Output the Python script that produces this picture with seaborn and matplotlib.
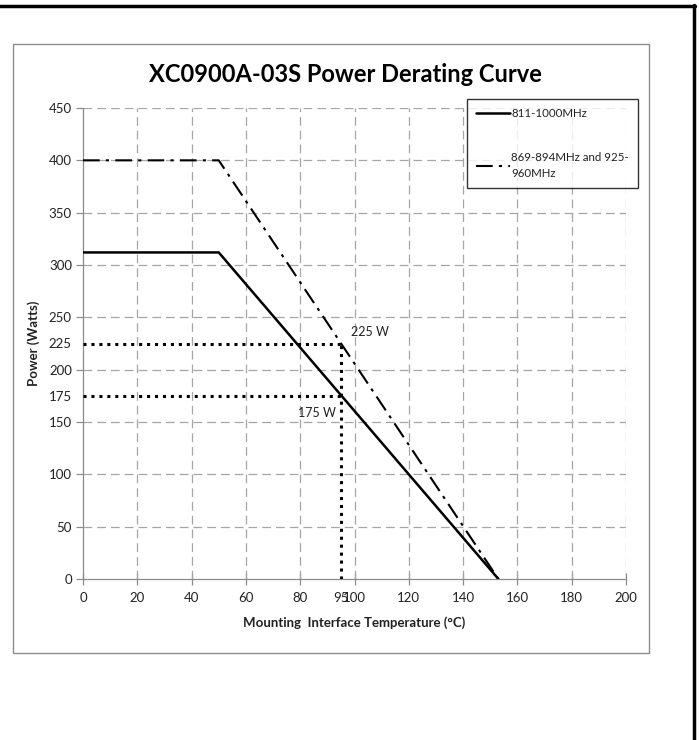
import matplotlib
matplotlib.use("Agg")
import matplotlib.pyplot as plt
import seaborn as sns
import pandas as pd
from matplotlib.lines import Line2D
from matplotlib.patches import Rectangle

# ---- data ----
temp_a = [0, 50, 153]
power_a = [312, 312, 0]
label_a = "811-1000MHz"

temp_b = [0, 50, 153]
power_b = [400, 400, 0]
label_b = "869-894MHz and 925-\n960MHz"

ref_temp = 95
ref_powers = [225, 175]
ref_labels = ["225 W", "175 W"]
ref_label_pos = [(98.7, 236), (79.2, 158.5)]

x_ticks = [0, 20, 40, 60, 80, 95, 100, 120, 140, 160, 180, 200]
y_ticks = [0, 50, 100, 150, 175, 200, 225, 250, 300, 350, 400, 450]
x_grid = [20, 40, 60, 80, 100, 120, 140, 160, 180, 200]
y_grid = [50, 100, 150, 200, 250, 300, 350, 400, 450]

title = "XC0900A-03S Power Derating Curve"
xlabel = "Mounting  Interface Temperature (\u00b0C)"
ylabel = "Power (Watts)"

sns.set_theme(style="white")
plt.rcParams["font.family"] = ["Lato", "DejaVu Sans"]

W, H = 699, 740
fig = plt.figure(figsize=(W / 100, H / 100), dpi=100)

# axes placement in pixels
x0, x1 = 83, 626
y_top, y_bot = 108, 579
ax = fig.add_axes([x0 / W, 1 - y_bot / H, (x1 - x0) / W, (y_bot - y_top) / H])

df = pd.concat([
    pd.DataFrame({"temp": temp_a, "power": power_a, "series": label_a}),
    pd.DataFrame({"temp": temp_b, "power": power_b, "series": label_b}),
])

grid_kw = dict(color="#a6a6a6", lw=0.9, dashes=(7, 4), zorder=1)
for gx in x_grid:
    ax.axvline(gx, **grid_kw)
for gy in y_grid:
    ax.axhline(gy, **grid_kw)

sns.lineplot(data=df[df.series == label_a], x="temp", y="power", color="black",
             lw=1.8, ax=ax, label=label_a, sort=False, zorder=4)
sns.lineplot(data=df[df.series == label_b], x="temp", y="power", color="black",
             lw=1.5, ax=ax, label=label_b, sort=False, zorder=4)
ax.lines[-1].set_dashes((8, 3, 1.5, 3))

# reference dotted lines
for p in ref_powers:
    ax.plot([0, ref_temp], [p, p], color="black", lw=2.2, ls=(0, (1, 1.6)), zorder=3)
ax.plot([ref_temp, ref_temp], [0, max(ref_powers)], color="black", lw=2.2,
        ls=(0, (1, 1.6)), zorder=3)

for txt, (tx, ty) in zip(ref_labels, ref_label_pos):
    ax.text(tx, ty, txt, fontsize=9, va="center", ha="left", color="#222222")

ax.set_xlim(0, 200)
ax.set_ylim(0, 450)
ax.set_xticks(x_ticks)
ax.set_yticks(y_ticks)
ax.set_xticklabels([str(v) for v in x_ticks], fontsize=9.5, color="#222222")
ax.set_yticklabels([str(v) for v in y_ticks], fontsize=9.5, color="#222222")
ax.tick_params(axis="x", direction="inout", length=8, width=0.9, color="#8c8c8c", pad=5)
ax.tick_params(axis="y", direction="out", length=5, width=0.9, color="#8c8c8c", pad=3)
ax.tick_params(bottom=True, left=True)
for t, v in zip(ax.xaxis.get_major_ticks(), x_ticks):
    if v == 95:
        t.tick1line.set_visible(False)
for t, v in zip(ax.yaxis.get_major_ticks(), y_ticks):
    if v in (175, 225):
        t.tick1line.set_visible(False)

for s in ("top", "right"):
    ax.spines[s].set_visible(False)
for s in ("left", "bottom"):
    ax.spines[s].set_color("#8c8c8c")
    ax.spines[s].set_linewidth(0.9)

ax.set_xlabel(xlabel, fontsize=9.5, fontweight="bold", color="#222222", labelpad=9)
ax.set_ylabel(ylabel, fontsize=9.5, fontweight="bold", color="#222222")
ax.yaxis.set_label_coords((40 - x0) / (x1 - x0), 0.50)

fig.text(345 / W, 1 - 75 / H, title, fontsize=17, fontweight="bold",
         ha="center", va="center", color="black")

leg = ax.legend(loc="upper left",
                bbox_to_anchor=((467 - x0) / (x1 - x0), 1 + (y_top - 99) / (y_bot - y_top)),
                frameon=True, fancybox=False, fontsize=8.3, handlelength=2.9,
                handletextpad=0.15, borderpad=0.8, labelspacing=2.8,
                borderaxespad=0)
leg.get_frame().set_edgecolor("black")
leg.get_frame().set_linewidth(1.0)
for t in leg.get_texts():
    t.set_color("#222222")
    t.set_linespacing(1.6)

# chart area box
fig.add_artist(Rectangle((13 / W, 1 - 653 / H), (649 - 13) / W, (653 - 44) / H,
                         transform=fig.transFigure, fill=False, edgecolor="#8c8c8c", lw=1.0))
# outer black border (top and right)
fig.add_artist(Line2D([0, 695 / W], [1 - 6 / H, 1 - 6 / H], color="black", lw=2.5,
                      transform=fig.transFigure))
fig.add_artist(Line2D([694 / W, 694 / W], [0, 1 - 5 / H], color="black", lw=2.5,
                      transform=fig.transFigure))

fig.savefig("out.png", dpi=100, facecolor="white")
